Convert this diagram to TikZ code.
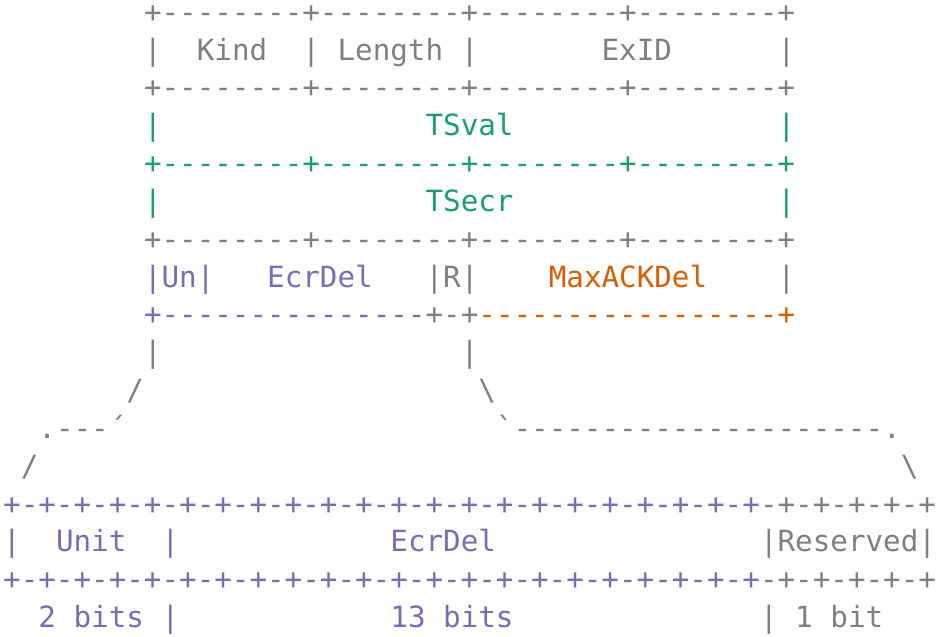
\documentclass[tikz,border=0pt]{standalone}
\usepackage{fontspec}
\setmonofont{DejaVu Sans Mono}
\definecolor{rulegray}{HTML}{808080}
\definecolor{tsgreen}{HTML}{1B9E77}
\definecolor{delpurple}{HTML}{7570B3}
\definecolor{maxorange}{HTML}{D95F02}
\newcommand{\asciifont}{\ttfamily\fontsize{29.23pt}{35pt}\selectfont}

\begin{document}
\begin{tikzpicture}[
  x=17.6pt, y=-37.83pt,
  ascii/.style={font=\asciifont, anchor=base west, inner sep=0pt, outer sep=0pt},
  gry/.style={ascii, text=rulegray},
  grn/.style={ascii, text=tsgreen},
  pur/.style={ascii, text=delpurple},
  org/.style={ascii, text=maxorange},
]

% Background / page size
\fill[white] (-0.182,-0.587) rectangle (53.34,16.25);
\useasboundingbox (-0.182,-0.587) rectangle (53.34,16.25);

% ---- Option header: Kind, Length, ExID ----
\node[gry] (brd0)   at (8,0)  {+--------+--------+--------+--------+};
\node[gry] (barK)   at (8,1)  {|};
\node[gry] (kind)   at (11,1) {Kind};
\node[gry] (barL)   at (17,1) {|};
\node[gry] (length) at (19,1) {Length};
\node[gry] (barE)   at (26,1) {|};
\node[gry] (exid)   at (34,1) {ExID};
\node[gry] (barR1)  at (44,1) {|};
\node[gry] (brd1)   at (8,2)  {+--------+--------+--------+--------+};

% ---- Timestamps ----
\node[grn] (tsvalL) at (8,3)  {|};
\node[grn] (tsval)  at (24,3) {TSval};
\node[grn] (tsvalR) at (44,3) {|};
\node[grn] (brd2)   at (8,4)  {+--------+--------+--------+--------+};
\node[grn] (tsecrL) at (8,5)  {|};
\node[grn] (tsecr)  at (24,5) {TSecr};
\node[grn] (tsecrR) at (44,5) {|};
\node[gry] (brd3)   at (8,6)  {+--------+--------+--------+--------+};

% ---- Delay word ----
\node[pur] (un)     at (8,7)  {|Un|};
\node[pur] (ecrdel) at (15,7) {EcrDel};
\node[gry] (rbit)   at (24,7) {|R|};
\node[org] (maxack) at (31,7) {MaxACKDel};
\node[gry] (barR2)  at (44,7) {|};
\node[pur] (brd4a)  at (8,8)  {+---------------};
\node[gry] (brd4b)  at (24,8) {+-+};
\node[org] (brd4c)  at (27,8) {-----------------+};

% ---- Zoom lines ----
\node[gry] (stemL)  at (8,9)  {|};
\node[gry] (stemR)  at (26,9) {|};
\node[gry] (slashL) at (7,10) {/};
\node[gry] (slashR) at (27,10) {\textbackslash};
\node[gry] (curveL) at (2,11) {.---´};
\node[gry] (curveR) at (28,11) {`---------------------.};
\node[gry] (footL)  at (1,12) {/};
\node[gry] (footR)  at (51,12) {\textbackslash};

% ---- Expanded 16 bits ----
\node[pur] (bitsA1) at (0,13)  {+-+-+-+-+-+-+-+-+-+-+-+-+-+-+-+-+-+-+-+-+-+};
\node[gry] (bitsB1) at (43,13) {-+-+-+-+-+};
\node[pur] (barU)   at (0,14)  {|};
\node[pur] (unit)   at (3,14)  {Unit};
\node[pur] (barUE)  at (9,14)  {|};
\node[pur] (ecrbig) at (22,14) {EcrDel};
\node[gry] (resvd)  at (43,14) {|Reserved|};
\node[pur] (bitsA2) at (0,15)  {+-+-+-+-+-+-+-+-+-+-+-+-+-+-+-+-+-+-+-+-+-+};
\node[gry] (bitsB2) at (43,15) {-+-+-+-+-+};

% ---- Field sizes ----
\node[pur] (szUnit) at (2,16)  {2 bits |};
\node[pur] (szEcr)  at (22,16) {13 bits};
\node[gry] (szRes)  at (43,16) {| 1 bit};

\end{tikzpicture}
\end{document}
